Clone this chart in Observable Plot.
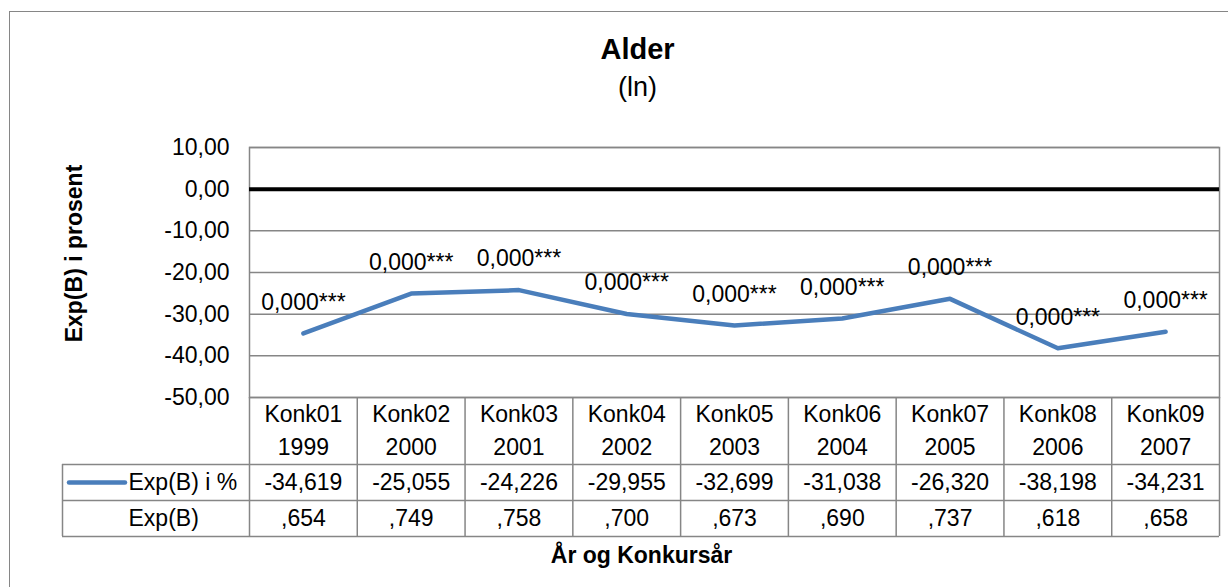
<!DOCTYPE html>
<html>
<head>
<meta charset="utf-8">
<script src="https://cdn.jsdelivr.net/npm/d3@7"></script>
<script src="https://cdn.jsdelivr.net/npm/@observablehq/plot@0.6"></script>
<style>
  html, body { margin: 0; padding: 0; background: #fff; overflow: hidden; }
  #wrap { position: relative; width: 1228px; height: 587px; overflow: hidden; background: #fff; }
  #border { position: absolute; left: 9px; top: 11px; width: 1400px; height: 800px; border: 1.5px solid #868686; box-sizing: border-box; }
  #chart { position: absolute; left: 0; top: 0; }
</style>
</head>
<body>
<div id="wrap"><div id="border"></div><div id="chart"></div></div>
<script>
// ---- data ----
const categories = ["Konk01", "Konk02", "Konk03", "Konk04", "Konk05", "Konk06", "Konk07", "Konk08", "Konk09"];
const years = ["1999", "2000", "2001", "2002", "2003", "2004", "2005", "2006", "2007"];
const expBPercent = [-34.619, -25.055, -24.226, -29.955, -32.699, -31.038, -26.320, -38.198, -34.231];
const expB = [0.654, 0.749, 0.758, 0.700, 0.673, 0.690, 0.737, 0.618, 0.658];
const pValues = [0.000, 0.000, 0.000, 0.000, 0.000, 0.000, 0.000, 0.000, 0.000];
const sigStars = ["***", "***", "***", "***", "***", "***", "***", "***", "***"];
const yTicks = [-50, -40, -30, -20, -10, 0, 10];
const titleText = "Alder";
const subtitleText = "(ln)";
const yLabel = "Exp(B) i prosent";
const xLabel = "År og Konkursår";
const seriesName = "Exp(B) i %";
const row2Name = "Exp(B)";

// ---- build ----
const comma = s => s.replace(".", ",");
const rows = categories.map((c, i) => ({
  i, code: c, year: years[i], pct: expBPercent[i],
  pctText: comma(expBPercent[i].toFixed(3)),
  bText: comma(expB[i].toFixed(3)).replace(/^0/, ""),
  sig: comma(pValues[i].toFixed(3)) + sigStars[i]
}));
const bounds = d3.range(categories.length + 1).map(k => k - 0.5);

const W = 1228, H = 587;
const mL = 249, mR = 9, mT = 147, mB = 190;
const gridC = "#868686", blue = "#4A7EBB";
const fs = 23;
const font = "'Liberation Sans', Arial, sans-serif";
const mid = { lineAnchor: "middle", textAnchor: "middle" };

const plot = Plot.plot({
  width: W, height: H,
  marginLeft: mL, marginRight: mR, marginTop: mT, marginBottom: mB,
  style: { fontFamily: font, fontSize: fs + "px", color: "#000", background: "transparent", overflow: "visible" },
  x: { domain: [-0.5, categories.length - 0.5], axis: null },
  y: {
    domain: [d3.min(yTicks), d3.max(yTicks)], ticks: yTicks,
    tickFormat: d => comma(d.toFixed(2)), tickSize: 0, tickPadding: 20, label: null
  },
  marks: [
    Plot.ruleY(yTicks.filter(t => t !== 0), { stroke: gridC, strokeWidth: 1.5 }),
    Plot.frame({ stroke: gridC, strokeWidth: 1.5 }),
    Plot.ruleY([0], { stroke: "#000", strokeWidth: 4 }),
    Plot.line(rows, { x: "i", y: "pct", stroke: blue, strokeWidth: 4.5, strokeLinecap: "round", strokeLinejoin: "round" }),
    Plot.text(rows, { x: "i", y: "pct", text: "sig", dy: -31, fontSize: fs, ...mid }),
    // data table grid
    Plot.ruleX(bounds, { insetTop: 250, insetBottom: -139, stroke: gridC, strokeWidth: 1.5 }),
    Plot.ruleX([bounds[0]], { insetTop: 317, insetBottom: -139, dx: -187, stroke: gridC, strokeWidth: 1.5 }),
    Plot.ruleY([yTicks[0]], { dy: 67, insetLeft: -187, stroke: gridC, strokeWidth: 1.5 }),
    Plot.ruleY([yTicks[0]], { dy: 103, insetLeft: -187, stroke: gridC, strokeWidth: 1.5 }),
    Plot.ruleY([yTicks[0]], { dy: 139, insetLeft: -187, stroke: gridC, strokeWidth: 1.5 }),
    // legend key
    Plot.ruleY([yTicks[0]], { dy: 85, insetLeft: -180, insetRight: 1094, stroke: blue, strokeWidth: 4.5, strokeLinecap: "round" }),
    // data table text
    Plot.text(rows, { x: "i", text: "code", frameAnchor: "bottom", dy: 17, fontSize: fs, ...mid }),
    Plot.text(rows, { x: "i", text: "year", frameAnchor: "bottom", dy: 50, fontSize: fs, ...mid }),
    Plot.text(rows, { x: "i", text: "pctText", frameAnchor: "bottom", dy: 85, fontSize: fs, ...mid }),
    Plot.text(rows, { x: "i", text: "bText", frameAnchor: "bottom", dy: 121, fontSize: fs, ...mid }),
    Plot.text([seriesName], { text: d => d, frameAnchor: "bottom-left", lineAnchor: "middle", textAnchor: "start", dx: -121, dy: 85, fontSize: fs }),
    Plot.text([row2Name], { text: d => d, frameAnchor: "bottom-left", lineAnchor: "middle", textAnchor: "start", dx: -121, dy: 121, fontSize: fs }),
    // axis titles
    Plot.text([xLabel], { text: d => d, frameAnchor: "bottom", dx: -93, dy: 158, fontSize: fs, fontWeight: "bold", ...mid }),
    Plot.text([yLabel], { text: d => d, frameAnchor: "left", dx: -175, dy: -19, rotate: -90, fontSize: fs, fontWeight: "bold", ...mid }),
    // titles
    Plot.text([titleText], { text: d => d, frameAnchor: "top", dx: -97, dy: -98, fontSize: 29, fontWeight: "bold", ...mid }),
    Plot.text([subtitleText], { text: d => d, frameAnchor: "top", dx: -97, dy: -60, fontSize: 27, ...mid })
  ]
});
document.getElementById("chart").appendChild(plot);
</script>
</body>
</html>
